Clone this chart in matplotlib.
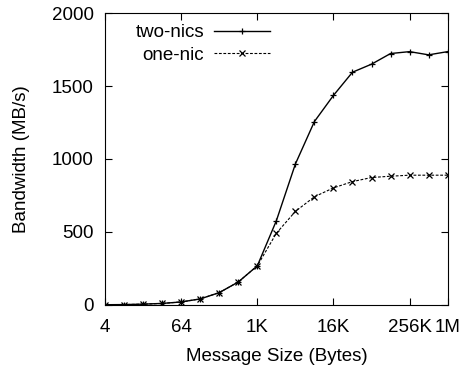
import numpy as np
import matplotlib.pyplot as plt

plt.rcParams['font.family'] = ['Liberation Sans', 'DejaVu Sans']

# message sizes in bytes (powers of two from 4 to 1M)
sizes = [4, 8, 16, 32, 64, 128, 256, 512, 1024, 2048, 4096, 8192, 16384,
         32768, 65536, 131072, 262144, 524288, 1048576]
two_nics = [1, 2, 5, 10, 20, 41, 84, 157, 268, 577, 966, 1257, 1436,
            1595, 1650, 1723, 1736, 1714, 1736]
one_nic = [1, 2, 5, 10, 20, 41, 84, 157, 268, 491, 641, 741, 802,
           845, 873, 882, 889, 889, 889]
xticks = [4, 64, 1024, 16384, 262144, 1048576]
xlabels = ['4', '64', '1K', '16K', '256K', '1M']

fig = plt.figure(figsize=(4.61, 3.75), dpi=100)
ax = fig.add_axes([0.228, 0.187, 0.743, 0.778])

ax.plot(sizes, two_nics, '-', color='black', lw=1, marker='+', ms=5, mew=0.9, label='two-nics')
ax.plot(sizes, one_nic, '--', color='black', lw=0.8, dashes=(2.5, 1.5), marker='x', ms=4, mew=0.9, label='one-nic')

ax.set_xscale('log', base=2)
ax.set_xlim(4, 1048576)
ax.set_ylim(0, 2000)
ax.set_xticks(xticks)
ax.set_xticklabels(xlabels)
ax.set_yticks([0, 500, 1000, 1500, 2000])
ax.minorticks_off()
ax.tick_params(direction='in', top=True, right=True, labelsize=13.5, length=5)
ax.tick_params(axis='x', pad=10)
ax.tick_params(axis='y', pad=8)

ax.set_xlabel('Message Size (Bytes)', fontsize=13.5, labelpad=9)
ax.set_ylabel('Bandwidth (MB/s)', fontsize=13.5, labelpad=16)

ax.legend(loc='upper left', bbox_to_anchor=(0.04, 1.02), frameon=False, markerfirst=False,
          fontsize=13.5, handlelength=3.0, labelspacing=0.3, handletextpad=0.5)

fig.savefig('out.png', dpi=100)
